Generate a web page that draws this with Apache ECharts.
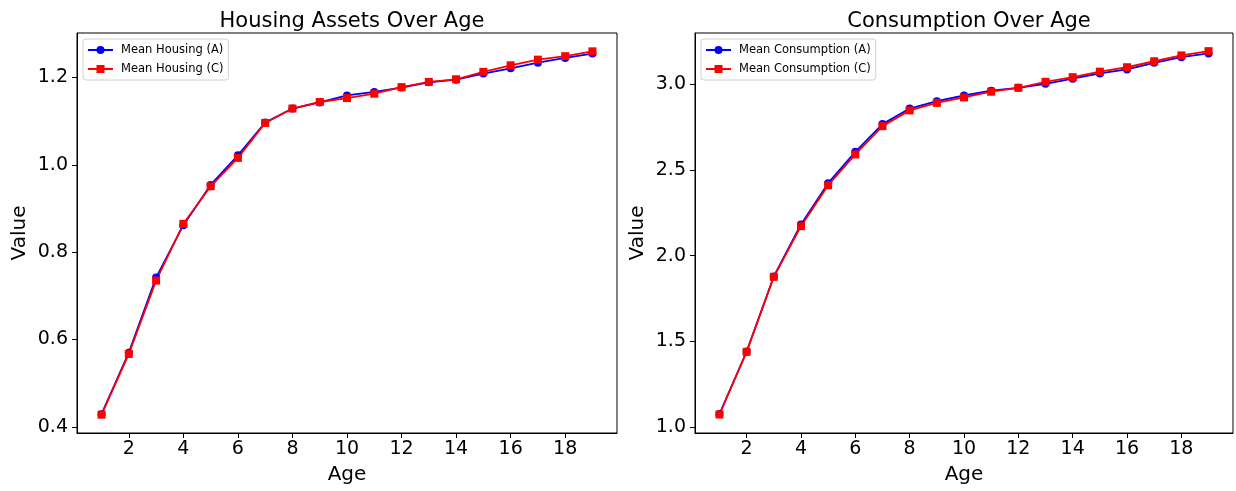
<!DOCTYPE html>
<html><head><meta charset="utf-8">
<script src="https://cdn.jsdelivr.net/npm/echarts@6/dist/echarts.min.js"></script>
<style>html,body{margin:0;padding:0;background:#fff}#c{width:1236px;height:491px}</style>
</head><body><div id="c"></div>
<script>
const ages = [1,2,3,4,5,6,7,8,9,10,11,12,13,14,15,16,17,18,19];
const housingA = [0.429,0.570,0.742,0.862,0.954,1.022,1.097,1.129,1.143,1.159,1.167,1.177,1.189,1.195,1.209,1.221,1.234,1.245,1.255];
const housingC = [0.428,0.567,0.735,0.865,0.951,1.016,1.096,1.129,1.144,1.153,1.163,1.178,1.190,1.196,1.213,1.228,1.241,1.249,1.260];
const consA = [1.075,1.440,1.878,2.182,2.423,2.606,2.768,2.859,2.902,2.935,2.963,2.980,3.003,3.033,3.064,3.087,3.126,3.159,3.181];
const consC = [1.072,1.438,1.876,2.172,2.411,2.591,2.756,2.848,2.892,2.924,2.957,2.980,3.015,3.042,3.074,3.100,3.135,3.169,3.194];
const xTicks = [2,4,6,8,10,12,14,16,18];
const yTicksHousing = [0.4,0.6,0.8,1.0,1.2];
const yTicksCons = [1.0,1.5,2.0,2.5,3.0];
const titles = ['Housing Assets Over Age','Consumption Over Age'];
const names = [['Mean Housing (A)','Mean Housing (C)'],['Mean Consumption (A)','Mean Consumption (C)']];

const FONT = 'DejaVu Sans';
const pair = (xs, ys) => xs.map((x,i)=>[x, ys[i]]);
const grids = [
  {left:77, top:33, width:540, height:400},
  {left:695, top:33, width:538, height:400}
];
function xAxis(i){
  return {type:'value', gridIndex:i, min:0.1, max:19.9,
    name:'Age', nameLocation:'middle', nameGap:32,
    nameTextStyle:{fontFamily:FONT, fontSize:20, color:'#000'},
    axisLine:{show:true, lineStyle:{color:'#000', width:1}},
    axisTick:{show:true, length:5, lineStyle:{color:'#000'}, customValues:xTicks},
    axisLabel:{fontFamily:FONT, fontSize:19, color:'#000', margin:7, customValues:xTicks, formatter:v=>String(v)},
    splitLine:{show:false}};
}
function yAxis(i, mn, mx, ticks){
  return {type:'value', gridIndex:i, min:mn, max:mx,
    name:'Value', nameLocation:'middle', nameGap:47,
    nameTextStyle:{fontFamily:FONT, fontSize:20, color:'#000'},
    axisLine:{show:true, lineStyle:{color:'#000', width:1}},
    axisTick:{show:true, length:5, lineStyle:{color:'#000'}, customValues:ticks},
    axisLabel:{fontFamily:FONT, fontSize:19, color:'#000', margin:9, customValues:ticks, formatter:v=>v.toFixed(1)},
    splitLine:{show:false}};
}
function ser(name, i, data, color, symbol){
  return {type:'line', name, xAxisIndex:i, yAxisIndex:i, data, symbol, symbolSize: 8,
    lineStyle:{color, width:1.8}, itemStyle:{color}, emphasis:{disabled:true}, animation:false};
}
const chart = echarts.init(document.getElementById('c'));
chart.setOption({
  animation:false,
  backgroundColor:'#fff',
  title: titles.map((t,i)=>({text:t, left: grids[i].left + grids[i].width/2, textAlign:'center', top:6,
    textStyle:{fontFamily:FONT, fontSize:21, fontWeight:'normal', color:'#000'}})),
  grid: grids.map(g=>Object.assign({show:true, borderColor:'#000', borderWidth:1, containLabel:false}, g)),
  legend: [0,1].map(i=>({orient:'vertical', left:grids[i].left+6, top:39, data:names[i],
    itemWidth:25, itemHeight:10, itemGap:7, padding:[5,5,5,4],
    borderColor:'#d0d0d0', borderWidth:1, borderRadius:3, backgroundColor:'rgba(255,255,255,0.8)',
    textStyle:{fontFamily:FONT, fontSize:11.5, color:'#000', padding:[0,0,0,3]}})),
  xAxis:[xAxis(0), xAxis(1)],
  yAxis:[yAxis(0,0.386,1.302,yTicksHousing), yAxis(1,0.964,3.300,yTicksCons)],
  series:[
    ser(names[0][0],0,pair(ages,housingA),'#0000ff','circle'),
    ser(names[0][1],0,pair(ages,housingC),'#ff0000','rect'),
    ser(names[1][0],1,pair(ages,consA),'#0000ff','circle'),
    ser(names[1][1],1,pair(ages,consC),'#ff0000','rect')
  ]
});
</script></body></html>
